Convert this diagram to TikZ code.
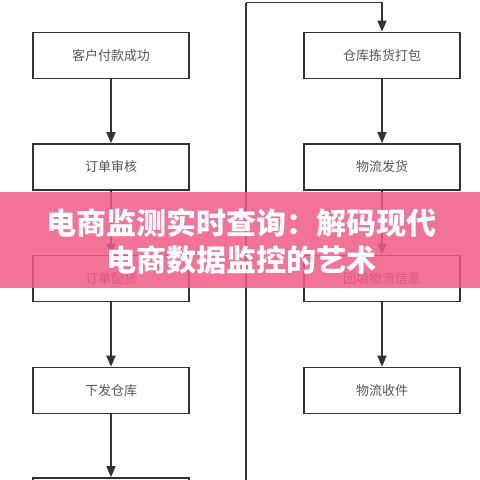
\documentclass[tikz,border=0pt]{standalone}
\usepackage{fontspec}
\newfontfamily\cjk{Noto Sans CJK SC}
\usetikzlibrary{arrows.meta}
\definecolor{linec}{HTML}{333333}
\definecolor{txtc}{HTML}{555555}
\definecolor{bannerc}{RGB}{242,91,134}
\tikzset{
  stepbox/.style={draw=linec, line width=1.6pt, fill=white, minimum width=156pt, minimum height=46pt, inner sep=0pt, font=\cjk\fontsize{13pt}{15pt}\selectfont, text=txtc},
  flow/.style={draw=linec, line width=1.6pt, -{Triangle[length=11pt,width=9pt]}},
  plain/.style={draw=linec, line width=1.6pt},
}
\begin{document}
\begin{tikzpicture}[x=1pt,y=-1pt]
\useasboundingbox (0,0) rectangle (480,480);
\clip (0,0) rectangle (480,480);
\fill[white] (0,0) rectangle (480,480);
% left column
\node[stepbox] (l1) at (111,55.5) {客户付款成功};
\node[stepbox] (l2) at (111,167) {订单审核};
\node[stepbox] (l3) at (111,278.5) {订单配货};
\node[stepbox] (l4) at (111,390.5) {下发仓库};
\node[stepbox] (l5) at (111,501) {};
% right column
\node[stepbox] (r1) at (382,55.5) {仓库拣货打包};
\node[stepbox] (r2) at (382,167) {物流发货};
\node[stepbox] (r3) at (382,278.5) {回填物流信息};
\node[stepbox] (r4) at (382,390.5) {物流收件};
% connectors
\draw[flow] (l1) -- (l2);
\draw[flow] (l2) -- (l3);
\draw[flow] (l3) -- (l4);
\draw[flow] (l4) -- (l5);
\draw[flow] (r1) -- (r2);
\draw[flow] (r2) -- (r3);
\draw[flow] (r3) -- (r4);
\coordinate (bot) at (246,490);
\coordinate (topc) at (246,2.5);
\draw[plain] (bot) -- (topc);
\draw[flow] (topc) -| (r1.north);
% banner
\fill[bannerc, fill opacity=0.85] (0,191.5) rectangle (480,288);
\node[text=white, font=\cjk\bfseries\fontsize{30pt}{37pt}\selectfont, align=center, inner sep=0pt] (title) at (241.5,241.5) {电商监测实时查询：解码现代\\电商数据监控的艺术};
\end{tikzpicture}
\end{document}
